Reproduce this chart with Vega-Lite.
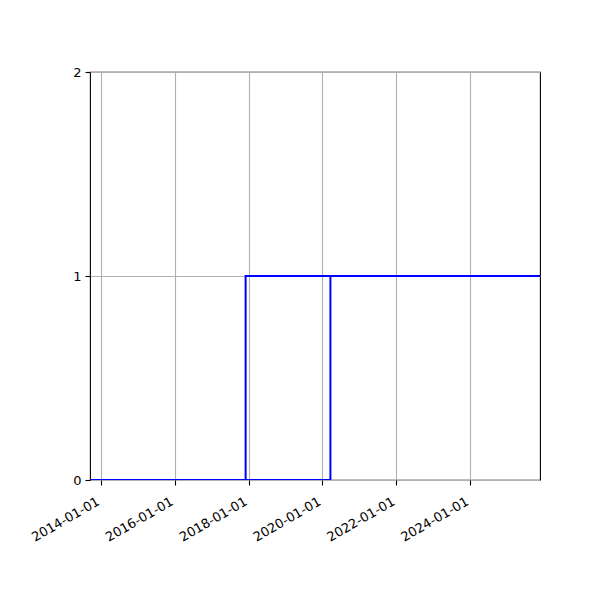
{
  "$schema": "https://vega.github.io/schema/vega-lite/v6.json",
  "width": 450,
  "height": 408,
  "autosize": {"type": "none"},
  "padding": {"left": 90, "top": 72, "right": 60, "bottom": 120},
  "background": "white",
  "config": {
    "view": {"stroke": "black", "strokeWidth": 1.1},
    "axis": {
      "labelFont": "DejaVu Sans",
      "labelFontSize": 13,
      "labelColor": "black",
      "labelOverlap": false,
      "labelFlush": false,
      "tickColor": "black",
      "tickSize": 5,
      "tickWidth": 1.1,
      "domain": false,
      "gridColor": "#b0b0b0",
      "gridWidth": 1.1,
      "title": null
    }
  },
  "data": {
    "values": [
      {"series": "a", "date": "2013-09-14", "value": 0},
      {"series": "a", "date": "2017-12-02", "value": 1},
      {"series": "a", "date": "2025-11-23", "value": 1},
      {"series": "b", "date": "2013-09-14", "value": 0},
      {"series": "b", "date": "2020-03-20", "value": 1},
      {"series": "b", "date": "2025-11-23", "value": 1}
    ]
  },
  "mark": {"type": "line", "interpolate": "step-after", "color": "#0000ff", "strokeWidth": 2, "clip": true},
  "encoding": {
    "x": {
      "field": "date",
      "type": "temporal",
      "scale": {"domain": ["2013-09-14", "2025-11-23"], "nice": false},
      "axis": {
        "values": ["2014-01-01", "2016-01-01", "2018-01-01", "2020-01-01", "2022-01-01", "2024-01-01"],
        "format": "%Y-%m-%d",
        "labelAngle": -30,
        "labelAlign": "right",
        "labelBaseline": "top",
        "labelPadding": 10,
        "labelOffset": -6,
        "grid": true
      }
    },
    "y": {
      "field": "value",
      "type": "quantitative",
      "scale": {"domain": [0, 2], "nice": false},
      "axis": {"values": [0, 1, 2], "format": ".0f", "grid": true, "labelPadding": 4}
    },
    "detail": {"field": "series", "type": "nominal"}
  }
}
